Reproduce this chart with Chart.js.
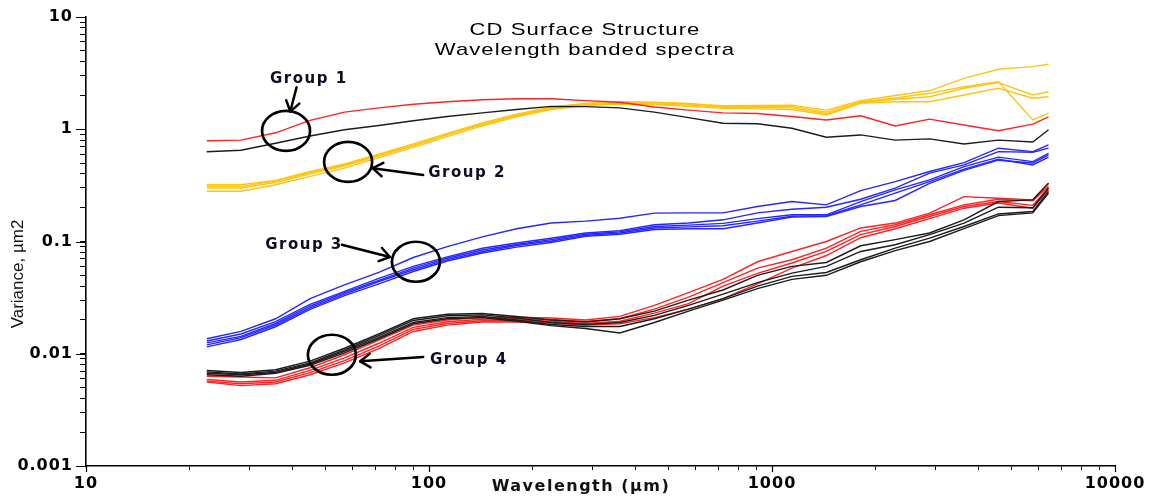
<!DOCTYPE html>
<html>
<head>
<meta charset="utf-8">
<script src="https://cdn.jsdelivr.net/npm/chart.js@4.4.0/dist/chart.umd.min.js"></script>
<style>
html,body{margin:0;padding:0;background:#fff;}
#wrap{width:1152px;height:500px;position:relative;}
</style>
</head>
<body>
<div id="wrap"><canvas id="c" width="1152" height="500"></canvas></div>
<script>
// ---------- DATA ----------
const wavelength = [22.5, 28.3, 35.7, 45.0, 56.7, 71.4, 90.0, 113, 143, 180, 227, 286, 360, 454, 571, 720, 907, 1143, 1440, 1814, 2286, 2880, 3629, 4572, 5760, 6400];

const g1Red   = [0.79, 0.80, 0.93, 1.20, 1.42, 1.55, 1.67, 1.76, 1.83, 1.87, 1.87, 1.80, 1.74, 1.58, 1.48, 1.40, 1.38, 1.30, 1.21, 1.32, 1.07, 1.23, 1.09, 0.97, 1.11, 1.29];
const g1Black = [0.63, 0.65, 0.75, 0.87, 0.99, 1.08, 1.19, 1.30, 1.40, 1.50, 1.60, 1.59, 1.55, 1.42, 1.27, 1.13, 1.12, 1.02, 0.85, 0.89, 0.80, 0.82, 0.74, 0.80, 0.77, 0.99];

const g2Gold1 = [0.32, 0.32, 0.35, 0.42, 0.49, 0.60, 0.74, 0.92, 1.14, 1.36, 1.58, 1.70, 1.74, 1.72, 1.68, 1.62, 1.63, 1.64, 1.48, 1.80, 2.00, 2.20, 2.84, 3.42, 3.61, 3.79];
const g2Gold2 = [0.31, 0.31, 0.345, 0.41, 0.48, 0.59, 0.72, 0.90, 1.12, 1.34, 1.56, 1.69, 1.76, 1.74, 1.70, 1.60, 1.60, 1.60, 1.42, 1.76, 1.90, 2.09, 2.39, 2.65, 1.21, 1.39];
const g2Gold3 = [0.30, 0.30, 0.335, 0.40, 0.47, 0.58, 0.71, 0.89, 1.10, 1.32, 1.53, 1.66, 1.70, 1.68, 1.64, 1.57, 1.56, 1.55, 1.38, 1.72, 1.85, 1.95, 2.32, 2.60, 2.02, 2.16];
const g2Gold4 = [0.28, 0.28, 0.32, 0.38, 0.45, 0.56, 0.69, 0.86, 1.07, 1.29, 1.50, 1.63, 1.68, 1.66, 1.60, 1.54, 1.52, 1.50, 1.34, 1.70, 1.76, 1.76, 2.02, 2.32, 1.89, 1.95];

const g3Blue1 = [0.0136, 0.0158, 0.0205, 0.031, 0.041, 0.053, 0.072, 0.090, 0.110, 0.130, 0.146, 0.152, 0.161, 0.179, 0.180, 0.180, 0.205, 0.227, 0.212, 0.284, 0.342, 0.420, 0.505, 0.678, 0.632, 0.725];
const g3Blue2 = [0.0130, 0.0150, 0.0193, 0.0275, 0.036, 0.047, 0.060, 0.073, 0.087, 0.097, 0.107, 0.119, 0.125, 0.141, 0.146, 0.156, 0.180, 0.194, 0.202, 0.238, 0.299, 0.406, 0.481, 0.632, 0.624, 0.678];
const g3Blue3 = [0.0125, 0.0143, 0.0186, 0.0265, 0.035, 0.045, 0.058, 0.071, 0.084, 0.094, 0.104, 0.116, 0.122, 0.136, 0.140, 0.145, 0.160, 0.173, 0.173, 0.227, 0.288, 0.354, 0.465, 0.564, 0.515, 0.611];
const g3Blue4 = [0.0120, 0.0139, 0.0180, 0.0256, 0.034, 0.044, 0.056, 0.069, 0.081, 0.092, 0.101, 0.113, 0.119, 0.132, 0.135, 0.138, 0.152, 0.168, 0.170, 0.212, 0.270, 0.342, 0.441, 0.541, 0.481, 0.564];
const g3Blue5 = [0.0115, 0.0134, 0.0174, 0.0248, 0.033, 0.042, 0.054, 0.067, 0.079, 0.089, 0.098, 0.111, 0.116, 0.128, 0.130, 0.130, 0.146, 0.165, 0.167, 0.205, 0.232, 0.330, 0.430, 0.530, 0.500, 0.590];

const g4Black1 = [0.0071, 0.0068, 0.0072, 0.0086, 0.0112, 0.0150, 0.0205, 0.0225, 0.0228, 0.0215, 0.0200, 0.0192, 0.0205, 0.024, 0.030, 0.037, 0.050, 0.060, 0.065, 0.0916, 0.104, 0.119, 0.156, 0.227, 0.235, 0.33];
const g4Black2 = [0.0069, 0.0066, 0.0070, 0.0083, 0.0108, 0.0145, 0.0198, 0.0218, 0.0222, 0.0208, 0.0190, 0.0182, 0.0190, 0.022, 0.027, 0.034, 0.043, 0.0523, 0.060, 0.0815, 0.0935, 0.115, 0.146, 0.202, 0.200, 0.30];
const g4Black3 = [0.0067, 0.0065, 0.0068, 0.0081, 0.0105, 0.0140, 0.0190, 0.0210, 0.0215, 0.0200, 0.0182, 0.0175, 0.0175, 0.0205, 0.025, 0.031, 0.040, 0.0489, 0.053, 0.0688, 0.0874, 0.107, 0.136, 0.176, 0.185, 0.28];
const g4Black4 = [0.0065, 0.0063, 0.0067, 0.0079, 0.0102, 0.0136, 0.0185, 0.0205, 0.0210, 0.0195, 0.0178, 0.0168, 0.0153, 0.019, 0.024, 0.030, 0.038, 0.046, 0.050, 0.066, 0.083, 0.100, 0.130, 0.170, 0.180, 0.27];
const g4Red1 = [0.0063, 0.0062, 0.0061, 0.0075, 0.0098, 0.0132, 0.0180, 0.0200, 0.0210, 0.0212, 0.0208, 0.0200, 0.0215, 0.027, 0.035, 0.046, 0.066, 0.0815, 0.100, 0.132, 0.146, 0.179, 0.251, 0.243, 0.235, 0.33];
const g4Red2 = [0.0059, 0.0056, 0.0058, 0.0071, 0.0092, 0.0124, 0.0172, 0.0193, 0.0203, 0.0205, 0.0202, 0.0194, 0.0205, 0.025, 0.032, 0.043, 0.058, 0.0688, 0.0874, 0.123, 0.141, 0.173, 0.212, 0.238, 0.230, 0.31];
const g4Red3 = [0.0057, 0.0054, 0.0056, 0.0068, 0.0087, 0.0117, 0.0165, 0.0186, 0.0197, 0.0199, 0.0195, 0.0186, 0.0195, 0.023, 0.028, 0.040, 0.052, 0.0643, 0.0815, 0.115, 0.136, 0.167, 0.205, 0.227, 0.210, 0.30];
const g4Red4 = [0.0056, 0.0052, 0.0054, 0.0065, 0.0083, 0.0111, 0.0158, 0.0180, 0.0192, 0.0193, 0.0188, 0.0180, 0.0185, 0.021, 0.025, 0.031, 0.042, 0.058, 0.075, 0.108, 0.130, 0.160, 0.198, 0.220, 0.198, 0.29];

const xTickLabels = ['10', '100', '1000', '10000'];
const yTickLabels = ['0.001', '0.01', '0.1', '1', '10'];
const titleLines = ['CD Surface Structure', 'Wavelength banded spectra'];
const xTitle = 'Wavelength (\u00b5m)';
const yTitle = 'Variance, \u00b5m2';
const groupLabels = ['Group 1', 'Group 2', 'Group 3', 'Group 4'];
// annotation anchors in data units: [label x, label y, circle x, circle y, arrow tail x, tail y, head x, head y]
const groupAnchors = [
  [34.4, 2.56, 38.3, 0.966, 41.1, 2.36, 39.4, 1.44],
  [99.5, 0.379, 58.1, 0.512, 96.2, 0.392, 68.5, 0.450],
  [33.3, 0.0855, 91.6, 0.0660, 55.7, 0.0935, 76.9, 0.0727],
  [100.7, 0.00811, 52.1, 0.0098, 96.2, 0.00937, 63.0, 0.00856]
];

// ---------- STYLE ----------
const RED = '#ff2222', BLACK = '#1c1c1c', GOLD = '#ffc412', BLUE = '#2626ff';

function ds(values, color) {
  return {
    data: wavelength.map((w, i) => ({x: w, y: values[i]})),
    borderColor: color, backgroundColor: color,
    borderWidth: 1.4, pointRadius: 0, tension: 0, fill: false
  };
}

const datasets = [
  ds(g4Black1, BLACK), ds(g4Black2, BLACK), ds(g4Black3, BLACK), ds(g4Black4, BLACK),
  ds(g4Red1, RED), ds(g4Red2, RED), ds(g4Red3, RED), ds(g4Red4, RED),
  ds(g3Blue1, BLUE), ds(g3Blue2, BLUE), ds(g3Blue3, BLUE), ds(g3Blue4, BLUE), ds(g3Blue5, BLUE),
  ds(g1Black, BLACK), ds(g1Red, RED),
  ds(g2Gold1, GOLD), ds(g2Gold2, GOLD), ds(g2Gold3, GOLD), ds(g2Gold4, GOLD)
];

function isDecade(v) {
  const e = Math.log10(v);
  return Math.abs(e - Math.round(e)) < 1e-6;
}
function keepDecadeSteps(scale) {
  scale.ticks = scale.ticks.filter(t => {
    const e = Math.floor(Math.log10(t.value) + 1e-9);
    const m = t.value / Math.pow(10, e);
    return Math.abs(m - Math.round(m)) < 1e-6;
  });
}
function decadeLabel(labels, minExp) {
  return function (v) {
    return isDecade(v) ? labels[Math.round(Math.log10(v)) - minExp] : '';
  };
}

const tickFont = {family: 'DejaVu Sans', weight: 'bold', size: 16};

const annotate = {
  id: 'annotate',
  beforeDraw(chart) { chart.ctx.letterSpacing = '1px'; },
  beforeDatasetsDraw(chart) { chart.ctx.letterSpacing = '0px'; },
  afterDraw(chart) {
    const ctx = chart.ctx;
    const xs = chart.scales.x, ys = chart.scales.y;
    const P = (a, b) => [xs.getPixelForValue(a), ys.getPixelForValue(b)];
    const area = chart.chartArea;
    ctx.save();
    // longer tick marks at the decades
    ctx.strokeStyle = '#000';
    ctx.lineWidth = 1.2;
    ctx.beginPath();
    ys.ticks.forEach(t => {
      if (isDecade(t.value)) {
        const py = Math.round(ys.getPixelForValue(t.value)) + 0.5;
        ctx.moveTo(area.left - 10, py); ctx.lineTo(area.left, py);
      }
    });
    xs.ticks.forEach(t => {
      if (isDecade(t.value)) {
        const px = Math.round(xs.getPixelForValue(t.value)) + 0.5;
        ctx.moveTo(px, area.bottom); ctx.lineTo(px, area.bottom + 6);
      }
    });
    ctx.stroke();
    // Title
    ctx.fillStyle = '#000';
    ctx.font = '17px "Liberation Sans"';
    ctx.letterSpacing = '0.8px';
    ctx.textAlign = 'center';
    ctx.textBaseline = 'alphabetic';
    titleLines.forEach((t, i) => {
      ctx.save();
      ctx.translate(585, 35 + i * 20);
      ctx.scale(1.3, 1);
      ctx.fillText(t, 0, 0);
      ctx.restore();
    });
    // Axis titles
    ctx.font = 'bold 16px "DejaVu Sans"';
    ctx.letterSpacing = '1.5px';
    ctx.fillStyle = '#111';
    ctx.fillText(xTitle, 581, 490.5);
    ctx.save();
    ctx.translate(23, 274);
    ctx.rotate(-Math.PI / 2);
    ctx.font = '17px "Liberation Sans"';
    ctx.letterSpacing = '0px';
    ctx.textAlign = 'center';
    ctx.fillText(yTitle, 0, 0);
    ctx.restore();
    // Group annotations
    ctx.strokeStyle = '#000';
    ctx.fillStyle = '#0d0d26';
    ctx.lineCap = 'round';
    ctx.lineJoin = 'round';
    ctx.font = 'bold 15px "DejaVu Sans"';
    ctx.letterSpacing = '1.5px';
    ctx.textAlign = 'left';
    groupAnchors.forEach((a, i) => {
      const [lx, ly] = P(a[0], a[1]);
      ctx.fillText(groupLabels[i], lx, ly);
      const [cx, cy] = P(a[2], a[3]);
      ctx.lineWidth = 2.7;
      ctx.beginPath();
      ctx.ellipse(cx, cy, 24, 20, 0, 0, Math.PI * 2);
      ctx.stroke();
      const [tx, ty] = P(a[4], a[5]);
      const [hx, hy] = P(a[6], a[7]);
      ctx.lineWidth = 2.5;
      ctx.beginPath();
      ctx.moveTo(tx, ty);
      ctx.lineTo(hx, hy);
      ctx.stroke();
      const ang = Math.atan2(hy - ty, hx - tx);
      const L = 12, s = 0.6;
      ctx.beginPath();
      ctx.moveTo(hx - L * Math.cos(ang - s), hy - L * Math.sin(ang - s));
      ctx.lineTo(hx, hy);
      ctx.lineTo(hx - L * Math.cos(ang + s), hy - L * Math.sin(ang + s));
      ctx.stroke();
    });
    ctx.restore();
  }
};

new Chart(document.getElementById('c'), {
  type: 'line',
  data: {datasets},
  options: {
    responsive: false,
    devicePixelRatio: 1,
    animation: false,
    layout: {padding: {top: 17, right: 37, left: 0, bottom: 0}},
    plugins: {legend: {display: false}, title: {display: false}, tooltip: {enabled: false}},
    scales: {
      x: {
        type: 'logarithmic', min: 10, max: 10000, position: 'bottom',
        afterBuildTicks: keepDecadeSteps,
        afterFit(s) { s.height = 34; },
        grid: {drawOnChartArea: false, drawTicks: true, tickLength: 4, tickColor: '#000', tickWidth: 1},
        border: {display: true, color: '#000', width: 1.6},
        ticks: {autoSkip: false, maxRotation: 0, minRotation: 0, padding: 4, color: '#000', font: tickFont,
                callback: decadeLabel(xTickLabels, 1)}
      },
      y: {
        type: 'logarithmic', min: 0.001, max: 10, position: 'left',
        afterBuildTicks: keepDecadeSteps,
        afterFit(s) { s.width = 86; },
        grid: {drawOnChartArea: false, drawTicks: true, tickLength: 6, tickColor: '#000', tickWidth: 1},
        border: {display: true, color: '#000', width: 1.6},
        ticks: {autoSkip: false, padding: 7, color: '#000', font: tickFont,
                callback: decadeLabel(yTickLabels, -3)}
      }
    }
  },
  plugins: [annotate]
});
</script>
</body>
</html>
